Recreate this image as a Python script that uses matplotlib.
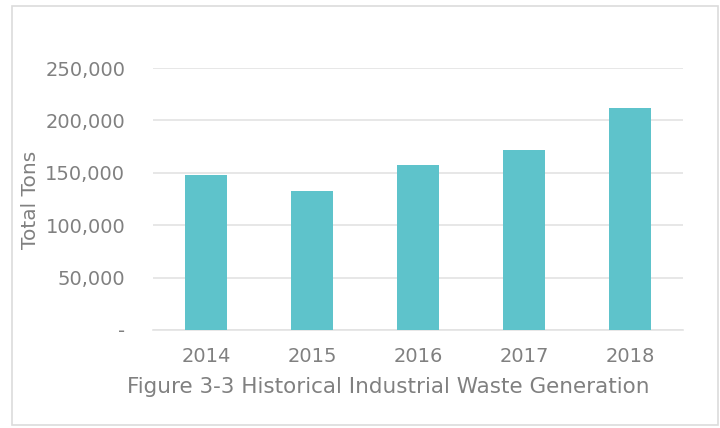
import matplotlib
matplotlib.use('Agg')
import matplotlib.pyplot as plt
from matplotlib.patches import Rectangle
from matplotlib.ticker import FuncFormatter

# 年度工业废物产生量（吨）
years = ['2014', '2015', '2016', '2017', '2018']
tons = [148000, 133000, 157000, 172000, 212000]
y_ticks = [0, 50000, 100000, 150000, 200000, 250000]

bar_color = '#5ec3cb'
text_color = '#808080'
grid_color = '#e3e3e3'

plt.rcParams['font.family'] = ['DejaVu Sans']

fig = plt.figure(figsize=(7.2, 4.28), dpi=100)
fig.patch.set_facecolor('white')

# 外框
frame = Rectangle((12 / 720, 3 / 428), 706 / 720, 419 / 428,
                  transform=fig.transFigure, facecolor='none',
                  edgecolor='#dcdcdc', linewidth=1.2, zorder=-1)
fig.patches.append(frame)

ax = fig.add_axes([153 / 720, 1 - 330 / 428, 530 / 720, 262 / 428])
ax.set_facecolor('none')
ax.bar(range(len(years)), tons, width=0.4, color=bar_color, zorder=3)

ax.set_xlim(-0.5, len(years) - 0.5)
ax.set_ylim(0, 250000)
ax.set_yticks(y_ticks)
ax.yaxis.set_major_formatter(FuncFormatter(lambda v, p: '-' if v == 0 else f'{int(v):,}'))
ax.set_xticks(range(len(years)))
ax.set_xticklabels(years)

ax.grid(axis='y', color=grid_color, linewidth=1.2, zorder=0)
for s in ['top', 'right', 'left']:
    ax.spines[s].set_visible(False)
ax.spines['bottom'].set_color(grid_color)
ax.spines['bottom'].set_linewidth(1.2)
ax.tick_params(axis='both', length=0, colors=text_color, labelsize=14)
ax.tick_params(axis='y', pad=20)
ax.tick_params(axis='x', pad=12)

fig.text(30 / 720, 1 - 200 / 428, 'Total Tons', rotation=90, ha='center', va='center',
         color=text_color, fontsize=14.5)
fig.text(388 / 720, 1 - 387 / 428, 'Figure 3-3 Historical Industrial Waste Generation',
         ha='center', va='center', color=text_color, fontsize=15.5)

fig.savefig('out.png', dpi=100)
